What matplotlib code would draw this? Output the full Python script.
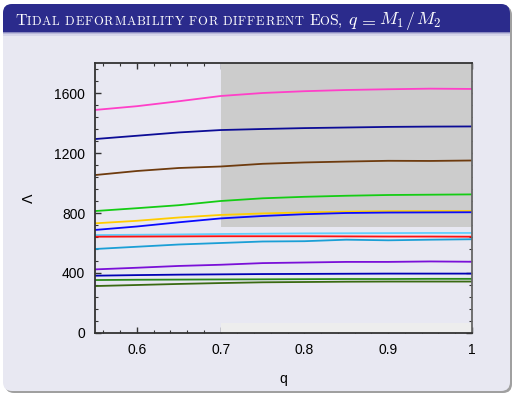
import matplotlib
matplotlib.use("Agg")
import matplotlib.pyplot as plt
from matplotlib.patches import FancyBboxPatch, Rectangle
from matplotlib.ticker import MultipleLocator

plt.rcParams["mathtext.fontset"] = "cm"

# ---------------- data ----------------
q = [0.55, 0.60, 0.65, 0.70, 0.75, 0.80, 0.85, 0.90, 0.95, 1.00]

lam_pink   = [1487, 1512, 1545, 1580, 1600, 1612, 1620, 1625, 1629, 1627]
lam_navy1  = [1293, 1315, 1337, 1353, 1360, 1366, 1370, 1374, 1376, 1377]
lam_brown  = [1053, 1080, 1100, 1110, 1128, 1137, 1143, 1148, 1147, 1150]
lam_green  = [813, 832, 852, 880, 898, 908, 915, 920, 922, 924]
lam_gold   = [731, 748, 770, 787, 797, 804, 809, 812, 813, 813]
lam_blue   = [687, 710, 738, 764, 780, 792, 800, 803, 804, 805]
lam_sky    = [653, 655, 657, 660, 662, 664, 665, 666, 667, 667]
lam_red    = [642, 643, 644, 645, 645, 645, 644, 643, 643, 642]
lam_cyan   = [560, 575, 590, 600, 610, 612, 622, 618, 622, 625]
lam_purple = [424, 435, 447, 455, 466, 470, 474, 474, 477, 475]
lam_navy2  = [382, 386, 389, 391, 393, 394, 395, 396, 396, 396]
lam_forest = [353, 355, 356, 357, 358, 359, 360, 360, 361, 361]
lam_dkgrn  = [313, 320, 327, 333, 338, 340, 342, 343, 343, 343]

series = [
    (lam_pink, "#ff3fc8"),
    (lam_navy1, "#0c0c96"),
    (lam_brown, "#6e3b0e"),
    (lam_green, "#14cc14"),
    (lam_gold, "#ffcc00"),
    (lam_blue, "#0a0aff"),
    (lam_sky, "#5fd0ff"),
    (lam_red, "#ff1010"),
    (lam_cyan, "#1a9fd6"),
    (lam_purple, "#7a10d8"),
    (lam_navy2, "#0000b4"),
    (lam_forest, "#2a8a1a"),
    (lam_dkgrn, "#3a6a12"),
]

xticks = [0.6, 0.7, 0.8, 0.9, 1.0]
xticklabels = ["0.6", "0.7", "0.8", "0.9", "1"]
yticks = [0, 400, 800, 1200, 1600]
yticklabels = ["0", "400", "800", "1200", "1600"]

W, H = 514, 395
fig = plt.figure(figsize=(W / 100, H / 100), dpi=100)
fig.patch.set_facecolor("white")

# ---------------- slide frame ----------------
bg = fig.add_axes([0, 0, 1, 1])
bg.set_xlim(0, W)
bg.set_ylim(H, 0)
bg.axis("off")
bg.set_zorder(-10)
BODY = "#e8e8f2"
TITLE = "#2b2b8c"
bg.add_patch(FancyBboxPatch((5, 6), 507, 387, boxstyle="round,pad=0,rounding_size=9",
                            fc="#a0a0a0", ec="none"))
bg.add_patch(FancyBboxPatch((3, 4), 507, 387, boxstyle="round,pad=0,rounding_size=9",
                            fc=BODY, ec="none"))
bg.add_patch(FancyBboxPatch((3, 4), 507, 40, boxstyle="round,pad=0,rounding_size=9",
                            fc=TITLE, ec="none"))
bg.add_patch(Rectangle((3, 32), 507, 14, fc=BODY, ec="none"))
for i, c in enumerate(["#8a8ac0", "#b8b8da", "#d6d6ea"]):
    bg.add_patch(Rectangle((3, 32 + i * 1.2), 507, 1.2, fc=c, ec="none"))

# title in small caps (placed piece by piece)
renderer = fig.canvas.get_renderer()
BIG, SMALL, TRACK, MATH = 11.4, 9.0, 0.75, 13.0
BASE = 25


def put(x, s, size, fam="cmr10"):
    kw = dict(fontsize=size, color="white", va="baseline", ha="left")
    if fam:
        kw["family"] = fam
    t = bg.text(x, BASE, s, **kw)
    return x + t.get_window_extent(renderer).width


x = put(15, "T", BIG)
for ch in "IDAL DEFORMABILITY FOR DIFFERENT":
    if ch == " ":
        x += 4.2
    else:
        x = put(x, ch, SMALL) + TRACK
x = put(309, "E", BIG)
x = put(x, "O", SMALL)
x = put(x, "S,", BIG)
put(348, r"$q$", MATH, None)
put(358, r"$=$", MATH, None)
x = put(379, r"$M_1$", MATH, None)
x = put(x + 1.5, r"$/$", MATH, None)
put(x + 1, r"$M_2$", MATH, None)

# ---------------- plot ----------------
ax = fig.add_axes([95 / W, 1 - 333 / H, 377 / W, 270 / H])
ax.set_facecolor("none")
ax.set_xlim(0.55, 1.0)
ax.set_ylim(0, 1800)

ax.add_patch(Rectangle((0.7, 710), 0.3, 1090, fc="#cccccc", ec="none", lw=0, zorder=2))
ax.add_patch(Rectangle((0.7, 0), 0.3, 70, fc="#ededed", ec="none", lw=0, zorder=2))

for vals, col in series:
    ax.plot(q, vals, color=col, lw=1.3, zorder=3, solid_capstyle="butt")

ax.set_xticks(xticks)
ax.set_xticklabels(xticklabels)
ax.set_yticks(yticks)
ax.set_yticklabels(yticklabels)
ax.xaxis.set_minor_locator(MultipleLocator(0.02))
ax.yaxis.set_minor_locator(MultipleLocator(80))
ax.tick_params(which="both", direction="in", top=True, right=True, color="#333333")
ax.tick_params(which="major", length=4, width=1.0, pad=7, labelsize=10)
ax.tick_params(which="minor", length=2.5, width=0.8)
for lab in ax.get_xticklabels() + ax.get_yticklabels():
    lab.set_family("Liberation Sans")

for s in ax.spines.values():
    s.set_color("#333333")
    s.set_linewidth(1.3)
    s.set_zorder(5)
ax.spines["right"].set_color("#666666")

ax.set_xlabel("q", family="Liberation Sans", fontsize=10, labelpad=11)
ax.set_ylabel("Λ", family="DejaVu Sans", fontsize=10, labelpad=13)

fig.savefig("out.png", dpi=100, facecolor="white")
